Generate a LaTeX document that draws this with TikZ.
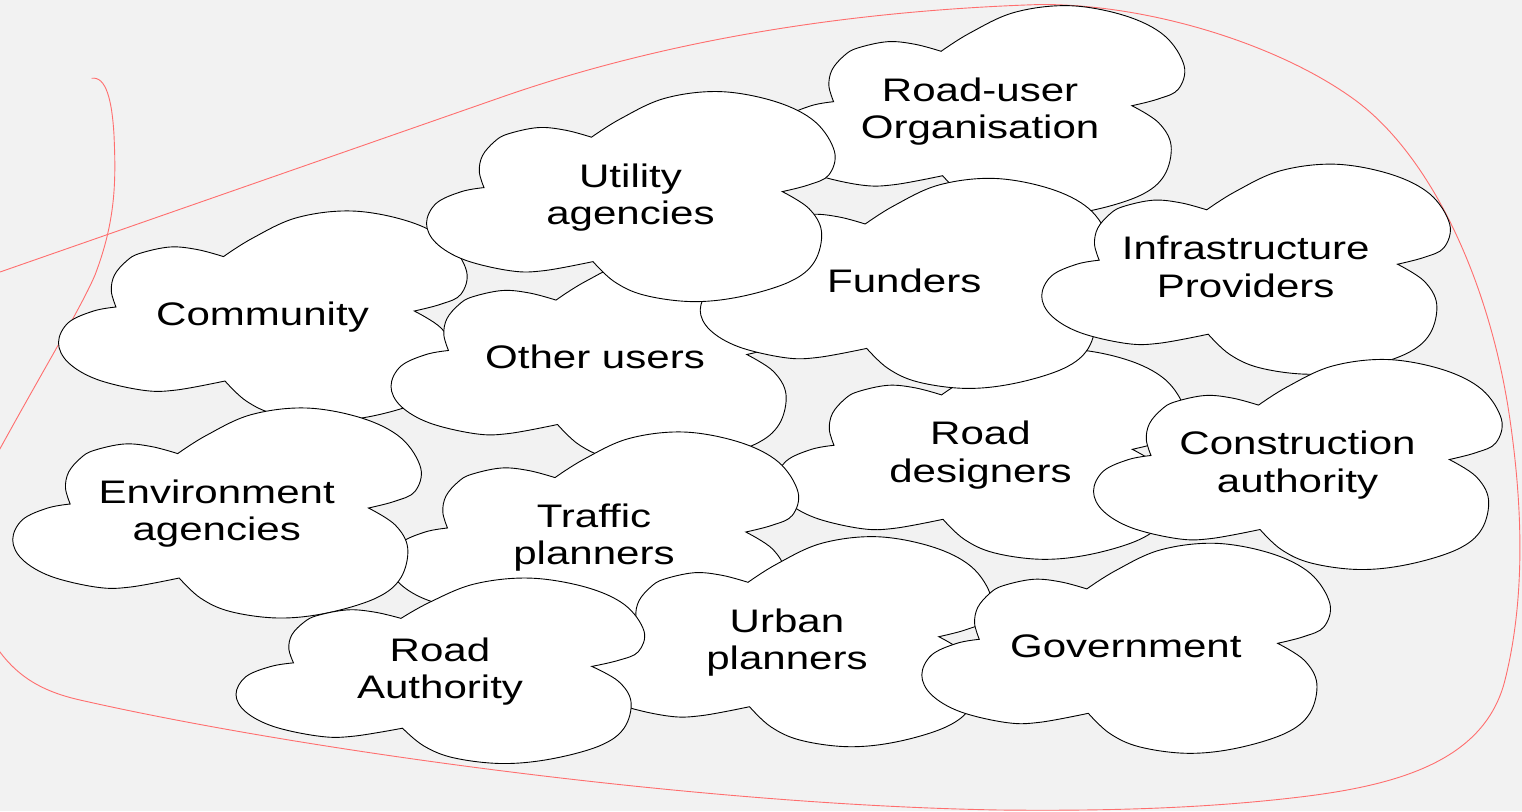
\documentclass[tikz,border=0pt]{standalone}
\usepackage{fontspec}
\setmainfont[FakeStretch=1.29]{Liberation Sans}
\definecolor{bgcol}{HTML}{F2F2F2}
\definecolor{ringcol}{HTML}{FF6E6E}
\begin{document}
\begin{tikzpicture}[x=1pt,y=-1pt,
  cloudedge/.style={draw=black, line width=0.9pt, fill=white, line join=miter},
  lbl/.style={align=center, font=\fontsize{32.6pt}{37.5pt}\selectfont, text=black, inner sep=0pt, yshift=-1.65pt},
  ring/.style={draw=ringcol, line width=0.9pt},
  % four-lobed cloud, 408 x 210, placed by its centre
  cloud/.pic={
    \path[cloudedge, shift={(-204,-105)}]
      plot[smooth,tension=.6] coordinates {(57.5,96) (52.8,80) (56,64) (68,50) (81,42.5) (111.5,36) (139,38.6) (165,45.6)}
      -- plot[smooth,tension=.6] coordinates {(165,45.6) (193.8,27.3) (238.3,6.7) (293.4,0) (349.2,10.1) (388.4,30) (408,60) (402.3,83.4) (382.3,93.2) (355.8,100)}
      -- plot[smooth,tension=.6] coordinates {(355.8,100) (382.3,116.8) (395,140) (388,170) (363.5,190) (314.2,205) (265.6,210) (217.5,203.5) (187.7,190) (166.5,170)}
      -- plot[smooth,tension=.6] coordinates {(166.5,170) (117.9,179) (84.9,179.3) (38.4,168.4) (9.8,151.6) (0,131.7) (9.8,111.7) (35.1,100) (57.5,96)}
      -- cycle;
  }
]
\useasboundingbox (0,0) rectangle (1522,811);
\fill[bgcol] (0,0) rectangle (1522,811);
\begin{scope}
\clip (0,0) rectangle (1522,811);

% freehand boundary around the stakeholders
\draw[ring] (-10,275.5) -- (500,97.7)
  .. controls (680,34.7) and (870,10) .. (1040,4.5)
  .. controls (1150,4) and (1280,45) .. (1355,100)
  .. controls (1430,155) and (1490,280) .. (1510,420)
  .. controls (1523,510) and (1525,600) .. (1505,680)
  .. controls (1485,760) and (1400,785) .. (1300,797)
  .. controls (1200,809) and (1100,811) .. (1000,810)
  .. controls (700,805) and (300,750) .. (80,700)
  .. controls (40,691) and (15,675) .. (-5,645);
\draw[ring] (91.7,78.3)
  .. controls (106,76) and (112,100) .. (114,135)
  .. controls (116,180) and (116,220) .. (95,275)
  .. controls (80,310) and (40,375) .. (-10,467);

% stakeholder clouds, back to front
\pic (cRoadUser) at (980.1,110.7) {cloud};
\node[lbl] (RoadUser) at (980.1,110.7) {Road-user\strut\\Organisation\strut};

\pic (cCommunity) at (262.5,316) {cloud};
\node[lbl] (Community) at (262.5,316) {Community\strut};

\pic (cOtherUsers) at (595,359.5) {cloud};
\node[lbl] (OtherUsers) at (595,359.5) {Other users\strut};

\pic (cRoadDesigners) at (980.5,454.3) {cloud};
\node[lbl] (RoadDesigners) at (980.5,454.3) {Road\strut\\designers\strut};

\pic (cFunders) at (904.2,283.4) {cloud};
\node[lbl] (Funders) at (904.2,283.4) {Funders\strut};

\pic (cUtility) at (630.5,196.6) {cloud};
\node[lbl] (Utility) at (630.5,196.6) {Utility\strut\\agencies\strut};

\pic (cInfrastructure) at (1245.7,269.2) {cloud};
\node[lbl] (Infrastructure) at (1245.7,269.2) {Infrastructure\strut\\Providers\strut};

\pic (cConstruction) at (1297.5,464.5) {cloud};
\node[lbl] (Construction) at (1297.5,464.5) {Construction\strut\\authority\strut};

\pic (cTraffic) at (594,537) {cloud};
\node[lbl] (Traffic) at (594,537) {Traffic\strut\\planners\strut};

\pic (cEnvironment) at (216.7,513) {cloud};
\node[lbl] (Environment) at (216.7,513) {Environment\strut\\agencies\strut};

\pic (cUrban) at (787,641.7) {cloud};
\node[lbl] (Urban) at (787,641.7) {Urban\strut\\planners\strut};

% this cloud is a little flatter than the others
\pic[yscale=0.883] (cRoadAuthority) at (440,670.8) {cloud};
\node[lbl] (RoadAuthority) at (440,670.8) {Road\strut\\Authority\strut};

\pic (cGovernment) at (1125.8,648.3) {cloud};
\node[lbl] (Government) at (1125.8,648.3) {Government\strut};
\end{scope}
\end{tikzpicture}
\end{document}
